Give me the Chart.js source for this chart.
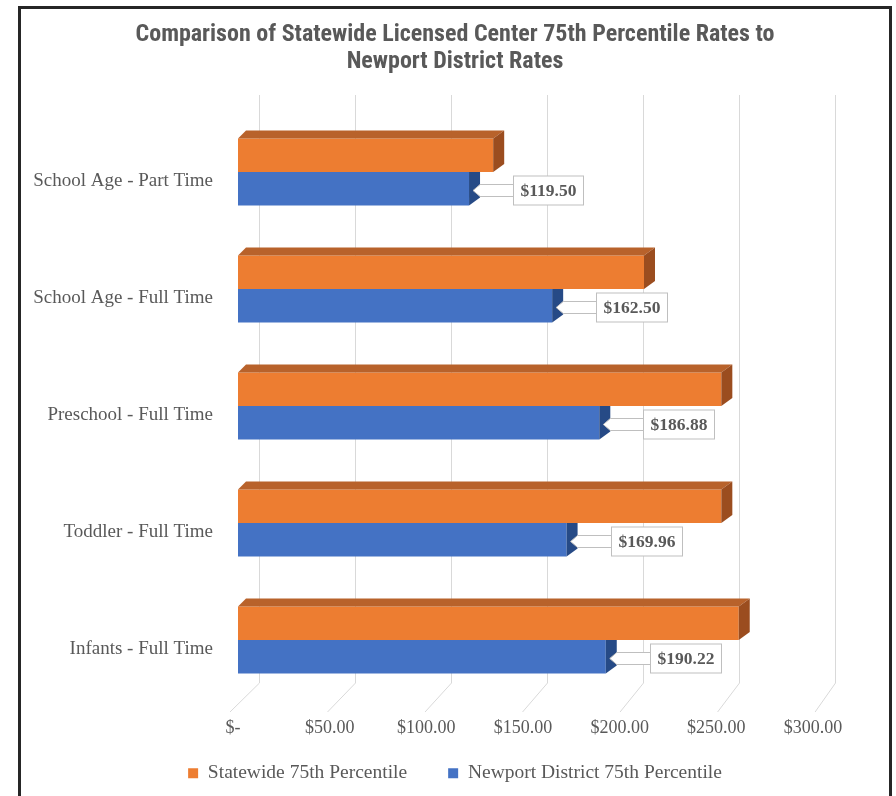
<!DOCTYPE html>
<html><head><meta charset="utf-8">
<script src="https://cdn.jsdelivr.net/npm/chart.js@4/dist/chart.umd.min.js"></script>
<style>html,body{margin:0;padding:0;background:#fff;} #wrap{width:896px;height:796px;position:relative;}</style>
</head><body><div id="wrap"><canvas id="c" width="896" height="796"></canvas></div>
<script>
const categories = ['School Age - Part Time','School Age - Full Time','Preschool - Full Time','Toddler - Full Time','Infants - Full Time'];
const statewide = [132, 210, 250, 250, 259];
const newport = [119.50, 162.50, 186.88, 169.96, 190.22];
const seriesNames = ['Statewide 75th Percentile','Newport District 75th Percentile'];
const titleLines = ['Comparison of Statewide Licensed Center 75th Percentile Rates to','Newport District Rates'];
const xMin = 0, xMax = 300, xStep = 50;

const ORANGE = '#ED7D31', ORANGE_TOP = '#b8622b', ORANGE_SIDE = '#9b4d1f';
const BLUE = '#4472C4', BLUE_SIDE = '#264a86';
const TXT = '#595959';

Chart.defaults.font.family = '"Liberation Serif", "Times New Roman", serif';

const frame = {
  id: 'frame',
  beforeDraw(chart) {
    const ctx = chart.ctx;
    ctx.save();
    ctx.strokeStyle = '#262626'; ctx.lineWidth = 3;
    ctx.strokeRect(19.5, 7.5, 871, 820);
    ctx.restore();
  },
  afterLayout(chart) {
    chart.scales.x.bottom = chart.scales.x.top + 50;
  }
};

const threeD = {
  id: 'threeD',
  beforeDatasetsDraw(chart) {
    const ctx = chart.ctx, x = chart.scales.x;
    ctx.save();
    ctx.strokeStyle = '#d9d9d9'; ctx.lineWidth = 1;
    x.ticks.forEach(t => {
      const v = t.value, px = x.getPixelForValue(v);
      const back = Math.round(px + 21 - v * 0.013) + 0.5;
      const front = px - 8 + v * 0.017;
      ctx.beginPath(); ctx.moveTo(back, 95); ctx.lineTo(back, 683); ctx.lineTo(front, 712); ctx.stroke();
    });
    ctx.restore();
  },
  afterDatasetsDraw(chart) {
    const ctx = chart.ctx;
    const m0 = chart.getDatasetMeta(0), m1 = chart.getDatasetMeta(1);
    ctx.save();
    categories.forEach((c, j) => {
      const o = m0.data[j], b = m1.data[j];
      const oTop = o.y - o.height / 2, oBot = o.y + o.height / 2, oL = o.base, oE = o.x;
      const bTop = b.y - b.height / 2, bBot = b.y + b.height / 2, bE = b.x;
      ctx.fillStyle = ORANGE_TOP;
      ctx.beginPath(); ctx.moveTo(oL, oTop); ctx.lineTo(oL + 8, oTop - 8); ctx.lineTo(oE + 11, oTop - 8); ctx.lineTo(oE, oTop); ctx.closePath(); ctx.fill();
      ctx.fillStyle = ORANGE_SIDE;
      ctx.beginPath(); ctx.moveTo(oE, oTop); ctx.lineTo(oE + 11, oTop - 8); ctx.lineTo(oE + 11, oBot - 8); ctx.lineTo(oE, oBot); ctx.closePath(); ctx.fill();
      ctx.fillStyle = BLUE_SIDE;
      ctx.beginPath(); ctx.moveTo(bE, bTop); ctx.lineTo(bE + 11, bTop); ctx.lineTo(bE + 11, bBot - 8); ctx.lineTo(bE, bBot); ctx.closePath(); ctx.fill();
      ctx.font = 'bold 17.5px "Liberation Serif", serif';
      const txt = '$' + newport[j].toFixed(2);
      const tw = ctx.measureText(txt).width;
      const bx = Math.round(bE + 44) + 0.5, bw = Math.round(tw + 14), bh = 29, cy = Math.round(b.y + 1) + 0.5;
      ctx.lineWidth = 1; ctx.strokeStyle = '#bfbfbf'; ctx.fillStyle = '#ffffff';
      ctx.beginPath(); ctx.moveTo(bx, cy - 6); ctx.lineTo(bE + 11, cy - 6); ctx.lineTo(bE + 4, cy); ctx.lineTo(bE + 11, cy + 6); ctx.lineTo(bx, cy + 6);
      ctx.fill(); ctx.stroke();
      ctx.fillRect(bx, cy - bh / 2, bw, bh); ctx.strokeRect(bx, cy - bh / 2, bw, bh);
      ctx.fillStyle = TXT; ctx.textAlign = 'center'; ctx.textBaseline = 'middle';
      ctx.fillText(txt, bx + bw / 2, cy + 1);
    });
    ctx.restore();
  }
};

new Chart(document.getElementById('c'), {
  type: 'bar',
  data: {
    labels: categories,
    datasets: [
      { label: seriesNames[0], data: statewide, backgroundColor: ORANGE, borderWidth: 0 },
      { label: seriesNames[1], data: newport, backgroundColor: BLUE, borderWidth: 0 }
    ]
  },
  options: {
    indexAxis: 'y',
    responsive: false,
    devicePixelRatio: 1,
    animation: false,
    categoryPercentage: 0.573,
    barPercentage: 1.0,
    layout: { padding: { left: 14, right: 0, top: 0, bottom: 13.5 } },
    scales: {
      x: {
        type: 'linear', min: xMin, max: xMax,
        grid: { display: false, drawTicks: false },
        border: { display: false },
        ticks: {
          stepSize: xStep, padding: 19, labelOffset: -5, color: TXT,
          font: { size: 18 },
          callback: v => v === 0 ? '$-' : '$' + Number(v).toFixed(2)
        },
        afterFit: s => { s.height = 24; }
      },
      y: {
        type: 'category',
        grid: { display: false, drawTicks: false },
        border: { display: false },
        ticks: { padding: 25, labelOffset: 9, color: TXT, font: { size: 19 } },
        afterFit: s => { s.width = 224; }
      },
      yR: {
        type: 'category', position: 'right', display: true,
        grid: { display: false, drawTicks: false },
        border: { display: false },
        ticks: { display: false },
        afterFit: s => { s.width = 78; }
      }
    },
    plugins: {
      title: {
        display: true, text: titleLines, color: TXT,
        font: { family: '"Liberation Sans Narrow", "Roboto Condensed", Arial, sans-serif', size: 24, weight: 'bold', lineHeight: 1.125 },
        padding: { top: 21.5, bottom: 38 }
      },
      legend: {
        position: 'bottom', maxHeight: 60,
        labels: { boxWidth: 10, boxHeight: 10, padding: 41, color: TXT, font: { size: 19.5 } }
      },
      tooltip: { enabled: false }
    }
  },
  plugins: [frame, threeD]
});
</script>
</body></html>
